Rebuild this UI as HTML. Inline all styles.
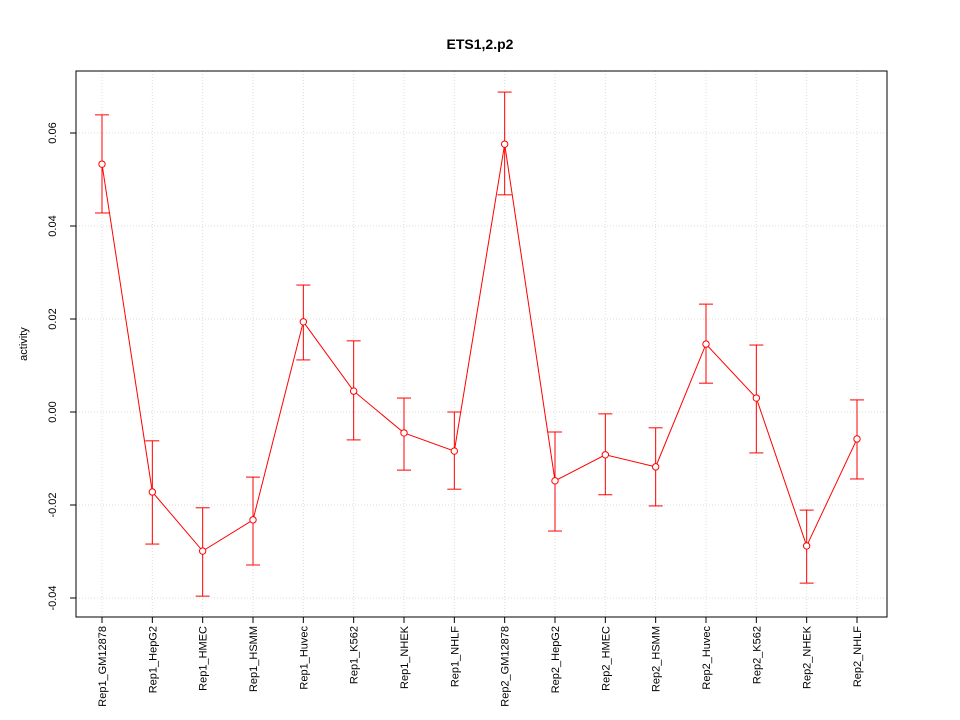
<!DOCTYPE html>
<html><head><meta charset="utf-8"><style>body{margin:0;background:#fff}svg{display:block;font-family:"Liberation Sans",sans-serif}</style></head>
<body>
<svg id="c" width="960" height="720"></svg>
<script>
const categories=["Rep1_GM12878","Rep1_HepG2","Rep1_HMEC","Rep1_HSMM","Rep1_Huvec","Rep1_K562","Rep1_NHEK","Rep1_NHLF","Rep2_GM12878","Rep2_HepG2","Rep2_HMEC","Rep2_HSMM","Rep2_Huvec","Rep2_K562","Rep2_NHEK","Rep2_NHLF"];
const values=[0.0533,-0.0172,-0.0299,-0.0232,0.0194,0.0045,-0.0045,-0.0084,0.0576,-0.0148,-0.0092,-0.0118,0.0146,0.0030,-0.0288,-0.0058];
const upper=[0.0639,-0.0062,-0.0206,-0.0140,0.0273,0.0153,0.0030,0.0000,0.0688,-0.0043,-0.0004,-0.0034,0.0232,0.0144,-0.0211,0.0026];
const lower=[0.0428,-0.0284,-0.0396,-0.0329,0.0112,-0.0060,-0.0125,-0.0166,0.0467,-0.0256,-0.0178,-0.0202,0.0062,-0.0088,-0.0368,-0.0144];
const yTicks=[-0.04,-0.02,0.00,0.02,0.04,0.06];
const yTickLabels=["-0.04","-0.02","0.00","0.02","0.04","0.06"];
const svg=document.getElementById('c');const NS='http://www.w3.org/2000/svg';
function el(t,a,p){const e=document.createElementNS(NS,t);for(const k in a)e.setAttribute(k,a[k]);(p||svg).appendChild(e);return e;}
const L=76,R=887,T=71,B=617;
const x=i=>102+i*(857-102)/(categories.length-1);
const y=v=>412-v*4650;
categories.forEach((c,i)=>{const g=el('line',{x1:x(i),x2:x(i),y1:T,y2:B,stroke:'#dcdcdc','stroke-dasharray':'1,2'});

});
yTicks.forEach(v=>{const g=el('line',{x1:L,x2:R,y1:y(v),y2:y(v),stroke:'#dcdcdc','stroke-dasharray':'1,2'});

});
const frame=el('rect',{x:L,y:T,width:R-L,height:B-T,fill:'none',stroke:'#000'});


yTicks.forEach((v,i)=>{el('line',{x1:L-6,x2:L,y1:y(v),y2:y(v),stroke:'#000'});
const t=el('text',{x:56,y:y(v),'font-size':11,'text-anchor':'middle',transform:`rotate(-90 56 ${y(v)})`});t.textContent=yTickLabels[i];

});
categories.forEach((c,i)=>{el('line',{x1:x(i),x2:x(i),y1:B,y2:B+6,stroke:'#000'});
const t=el('text',{x:x(i)+4,y:626,'font-size':11,'text-anchor':'end',transform:`rotate(-90 ${x(i)+4} 626)`});t.textContent=c;

});
const pl=el('polyline',{points:values.map((v,i)=>x(i)+','+y(v)).join(' '),fill:'none',stroke:'#ff0000'});


values.forEach((v,i)=>{const g=el('g',{stroke:'#ff0000',fill:'none'});


el('line',{x1:x(i),x2:x(i),y1:y(upper[i]),y2:y(lower[i])},g);
el('line',{x1:x(i)-7,x2:x(i)+7,y1:y(upper[i]),y2:y(upper[i])},g);
el('line',{x1:x(i)-7,x2:x(i)+7,y1:y(lower[i]),y2:y(lower[i])},g);
const p=el('circle',{cx:x(i),cy:y(v),r:3.2,fill:'#fff',stroke:'#ff0000'});

});
const ti=el('text',{x:480,y:49,'font-size':14,'font-weight':'bold','text-anchor':'middle'});ti.textContent='ETS1,2.p2';


const yl=el('text',{x:27,y:344,'font-size':11,'text-anchor':'middle',transform:'rotate(-90 27 344)'});yl.textContent='activity';


</script>
</body></html>
